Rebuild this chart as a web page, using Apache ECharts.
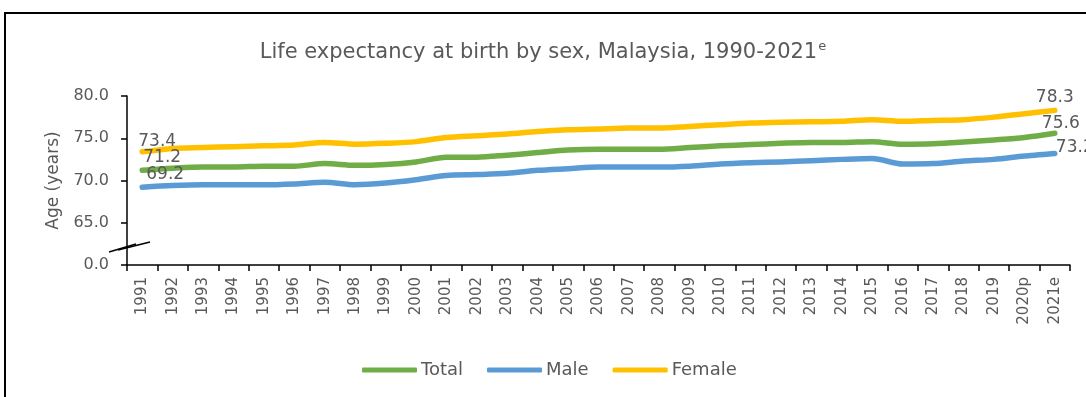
<!DOCTYPE html>
<html>
<head>
<meta charset="utf-8">
<script src="https://cdn.jsdelivr.net/npm/echarts@6/dist/echarts.min.js"></script>
<style>
  html, body { margin: 0; padding: 0; background: #fff; }
  #chart { width: 1086px; height: 397px; }
</style>
</head>
<body>
<div id="chart"></div>
<script>
// Years on the category axis
const years = ['1991','1992','1993','1994','1995','1996','1997','1998','1999','2000',
  '2001','2002','2003','2004','2005','2006','2007','2008','2009','2010',
  '2011','2012','2013','2014','2015','2016','2017','2018','2019','2020p','2021e'];

// Life expectancy at birth (years)
const totalLE = [71.2, 71.45, 71.6, 71.6, 71.7, 71.7, 72.0, 71.8, 71.9, 72.2,
  72.75, 72.75, 73.0, 73.3, 73.6, 73.7, 73.7, 73.7, 73.9, 74.1,
  74.25, 74.4, 74.5, 74.5, 74.6, 74.3, 74.35, 74.55, 74.8, 75.1, 75.6];
const maleLE = [69.2, 69.4, 69.5, 69.5, 69.5, 69.6, 69.8, 69.5, 69.7, 70.1,
  70.6, 70.7, 70.85, 71.2, 71.4, 71.6, 71.6, 71.6, 71.7, 71.95,
  72.1, 72.2, 72.35, 72.5, 72.6, 71.95, 72.0, 72.3, 72.5, 72.9, 73.2];
const femaleLE = [73.4, 73.8, 73.9, 74.0, 74.1, 74.2, 74.5, 74.3, 74.4, 74.6,
  75.1, 75.3, 75.5, 75.8, 76.0, 76.1, 76.2, 76.2, 76.4, 76.6,
  76.8, 76.9, 76.95, 77.0, 77.2, 77.0, 77.1, 77.2, 77.5, 77.9, 78.3];

// Value-axis ticks; the lowest tick stands for zero across the axis break
const yTicks = [60, 65, 70, 75, 80];
const yTickText = ['0.0', '65.0', '70.0', '75.0', '80.0'];

const FONT = 'DejaVu Sans';
const GREY = '#595959';

// Only the first and last points carry value labels
function withEndLabels(values, firstOffset, lastOffset) {
  return values.map(function (v, i) {
    const isFirst = i === 0, isLast = i === values.length - 1;
    if (!isFirst && !isLast) return v;
    return {
      value: v,
      label: {
        show: true,
        position: 'top',
        offset: isFirst ? firstOffset : lastOffset,
        formatter: function (p) { return p.value.toFixed(1); }
      }
    };
  });
}

function lineSeries(name, color, data) {
  return {
    name: name,
    type: 'line',
    smooth: 0.3,
    symbol: 'circle',
    symbolSize: 0,
    showSymbol: true,
    lineStyle: { width: 5.5, color: color, cap: 'round', join: 'round' },
    itemStyle: { color: color },
    label: { show: false, color: GREY, fontFamily: FONT, fontSize: 17, distance: 4 },
    emphasis: { disabled: true },
    data: data,
    z: 3
  };
}

const chart = echarts.init(document.getElementById('chart'), null, { renderer: 'canvas' });

chart.setOption({
  animation: false,
  backgroundColor: '#fff',
  title: {
    text: '{m|Life expectancy at birth by sex, Malaysia, 1990-2021}{s|e}',
    left: 'center',
    top: 35,
    textStyle: {
      rich: {
        m: { fontFamily: FONT, fontSize: 21, color: GREY, fontWeight: 'normal', lineHeight: 26 },
        s: { fontFamily: FONT, fontSize: 13, color: GREY, fontWeight: 'normal', verticalAlign: 'top', lineHeight: 26, padding: [0, 0, 9, 1] }
      }
    }
  },
  legend: {
    left: 357,
    top: 356,
    itemWidth: 55,
    itemHeight: 5,
    itemGap: 24,
    icon: 'roundRect',
    textStyle: { fontFamily: FONT, fontSize: 18, color: GREY, padding: [0, 0, 0, -1] },
    data: ['Total', 'Male', 'Female']
  },
  grid: { left: 127, right: 16, top: 96, bottom: 132, containLabel: false },
  xAxis: {
    type: 'category',
    data: years,
    boundaryGap: true,
    axisLine: { lineStyle: { color: '#000', width: 1.5 } },
    axisTick: { show: true, length: 6, lineStyle: { color: '#000', width: 1.5 } },
    axisLabel: { rotate: 90, margin: 12, fontFamily: FONT, fontSize: 15, color: GREY, interval: 0 },
    splitLine: { show: false }
  },
  yAxis: {
    type: 'value',
    min: yTicks[0],
    max: yTicks[yTicks.length - 1],
    interval: yTicks[1] - yTicks[0],
    name: 'Age (years)',
    nameLocation: 'middle',
    nameGap: 58,
    nameTextStyle: { fontFamily: FONT, fontSize: 17, color: GREY },
    axisLine: { show: true, lineStyle: { color: '#000', width: 1.5 } },
    axisTick: { show: true, length: 6, lineStyle: { color: '#000', width: 1.5 } },
    axisLabel: {
      margin: 18,
      fontFamily: FONT,
      fontSize: 16,
      color: GREY,
      formatter: function (v) {
        const i = yTicks.indexOf(v);
        return i >= 0 ? yTickText[i] : '';
      }
    },
    splitLine: { show: false }
  },
  series: [
    lineSeries('Total', '#70AD47', withEndLabels(totalLE, [20, 0], [6, 3])),
    lineSeries('Male', '#5B9BD5', withEndLabels(maleLE, [23, 0], [20, 7])),
    lineSeries('Female', '#FFC000', withEndLabels(femaleLE, [15, 2], [0, 0]))
  ]
});

// Outer frame and the axis-break marks
chart.setOption({
  graphic: [
    {
      type: 'rect',
      shape: { x: 5, y: 13, width: 1200, height: 500 },
      style: { fill: 'none', stroke: '#000', lineWidth: 2 },
      silent: true, z: 0
    },
    {
      type: 'line',
      shape: { x1: 109, y1: 252, x2: 136, y2: 244 },
      style: { stroke: '#000', lineWidth: 1.5 },
      silent: true, z: 10
    },
    {
      type: 'line',
      shape: { x1: 118, y1: 250, x2: 150, y2: 242 },
      style: { stroke: '#000', lineWidth: 1.5 },
      silent: true, z: 10
    }
  ]
});
</script>
</body>
</html>
